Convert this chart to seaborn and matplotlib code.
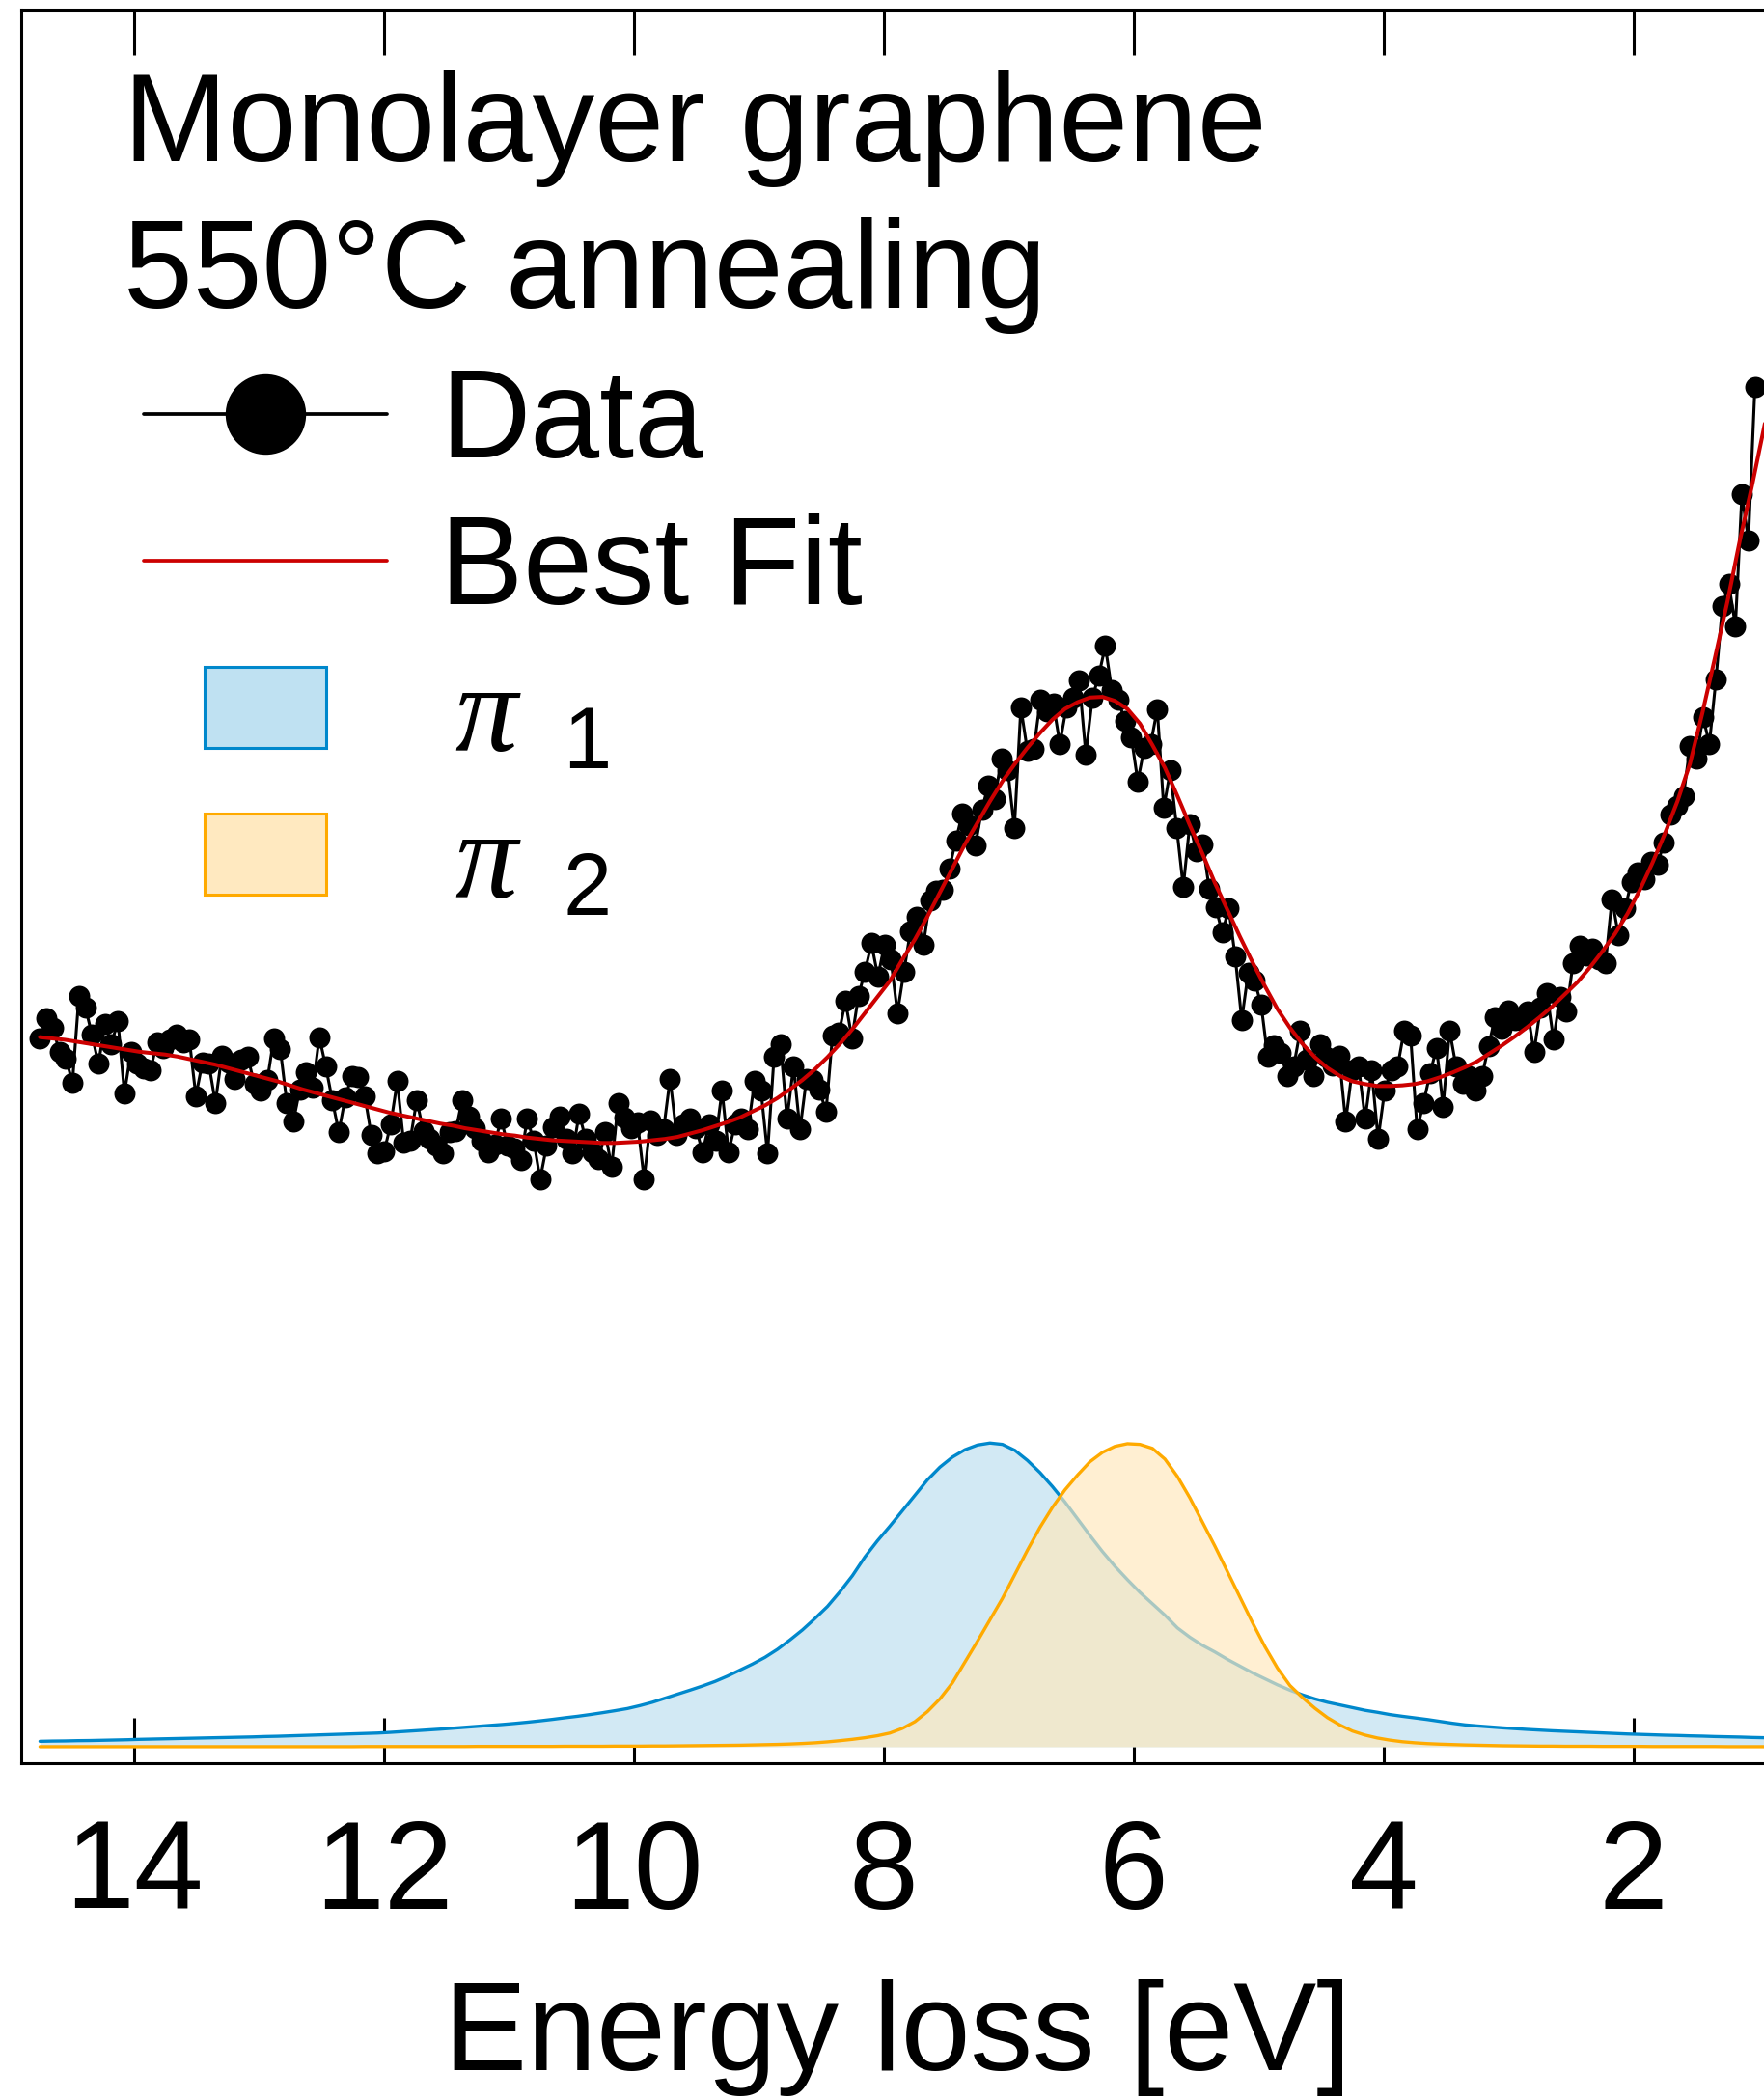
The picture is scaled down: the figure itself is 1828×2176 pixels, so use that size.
import numpy as np
import matplotlib
matplotlib.use("Agg")
import matplotlib.pyplot as plt
import seaborn as sns
from matplotlib.lines import Line2D
from matplotlib.patches import Patch, Rectangle
from matplotlib.legend_handler import HandlerPatch

# ---------------------------------------------------------------- data
# Measured EELS intensity (arb. units), evenly spaced in energy loss
intensity_data = [
    541, 556, 549, 531, 526, 508, 573, 564, 544, 522,
    552, 537, 554, 500, 531, 522, 519, 517, 538, 534,
    540, 544, 538, 540, 498, 523, 522, 493, 528, 523,
    511, 525, 527, 507, 502, 510, 541, 533, 493, 479,
    503, 516, 504,
    542, 520, 495, 471, 497, 513, 512, 498, 469, 455,
    457, 477, 509, 463, 465, 495, 472, 466, 461, 455,
    471, 472, 495, 483, 474, 465, 456, 462, 481, 461,
    459, 450, 481, 465, 436, 461, 475, 483, 466, 455,
    485, 466, 456, 451, 471, 445, 493,
    482, 474, 478, 436, 480, 469, 473, 511, 469, 477,
    481, 474, 456, 477, 465, 502, 456, 477, 481, 473,
    509, 502, 455, 527, 537, 481, 520, 473, 511, 510,
    503, 486, 543, 545, 569, 541, 573, 591,
    612, 587, 611, 600, 560, 591, 621, 632, 611, 644,
    651, 652, 668, 689, 709, 700, 685, 712, 730, 720,
    750, 741, 698, 788, 756, 757, 794, 785, 791, 761,
    788, 795, 808, 753, 795, 812, 834, 801, 794, 778,
    766, 733, 758, 761, 787, 713,
    741, 698, 654, 701, 681, 686, 653, 639, 620, 638,
    602, 555, 590, 584, 566, 527, 536, 530, 513, 520,
    547, 525, 513, 537, 527, 521, 528, 479, 517, 520,
    481, 517, 466, 502, 517, 520, 547, 543, 473, 493,
    515, 534, 490, 547,
    520, 507, 513, 502, 513, 535, 557, 548, 562, 555,
    555, 561, 531, 564, 575, 540, 572, 561, 597, 610,
    603, 608, 600, 597, 645, 618, 638, 658, 665, 660,
    673, 671, 687, 708, 715, 722, 759, 750, 781, 761,
    809, 864, 880, 849, 947, 913, 1027,
]
energy_start, energy_stop = 14.75, 1.03
energy_data = np.linspace(energy_start, energy_stop, len(intensity_data))

# Model curves on a 0.1 eV grid (14.75 ... 0.95 eV)
energy_fit = np.round(np.arange(14.75, 0.90, -0.1), 2)

best_fit = [
    542, 541, 540, 538.5, 537, 535.5, 534, 532.5, 531, 530,
    529, 527.5, 525.5, 523.5, 521.5, 519, 516.5, 514, 511.5, 509,
    506, 503, 500.5, 498, 495.5, 493, 490.5, 488, 485.5, 483.5,
    481.5, 479.5, 477.5, 476, 474, 472.5, 471, 469.5, 468.5, 467,
    466, 465, 464.5, 464, 463.5, 463, 463, 463.5, 464, 465,
    466, 467.5, 470, 472.5, 475.5, 478.5, 482, 486.5, 491, 496.5,
    503, 510, 518, 527, 537, 548, 560, 572, 584, 600,
    615, 632, 650, 668, 686, 702, 718, 733, 746, 758,
    769, 779, 787, 792, 795.5, 796, 793, 787, 776, 760,
    743, 722, 700, 679, 657, 637, 617, 598, 580, 563,
    549, 537, 527, 519, 513, 509, 507, 505.5, 505.5, 506,
    507, 509, 512, 515.5, 519.5, 524, 530, 536, 542.5, 549.5,
    557, 565, 574, 583, 594, 606, 619, 634, 652, 672,
    694, 718, 746, 784, 825, 867, 913, 955, 1000,
]

pi1_component = [
    16.3, 16.5, 16.6, 16.8, 16.9, 17.1, 17.3, 17.5, 17.8, 18.0,
    18.2, 18.4, 18.6, 18.8, 19.0, 19.2, 19.4, 19.6, 19.9, 20.1,
    20.4, 20.7, 21.0, 21.3, 21.6, 21.9, 22.2, 22.5, 23.0, 23.6,
    24.2, 24.8, 25.4, 26.1, 26.8, 27.5, 28.2, 28.9, 29.7, 30.6,
    31.6, 32.7, 33.9, 35.0, 36.3, 37.7, 39.2, 40.8, 43.0, 45.5,
    48.5, 51.5, 54.5, 57.6, 61, 65, 69.5, 74, 79, 85,
    92, 99.5, 108, 117, 128, 140, 154, 166, 177, 188.5,
    200, 211.5, 221, 228.5, 234, 237.5, 239, 238, 233.5, 226,
    217, 206.5, 195, 182.5, 170, 158, 147, 137, 127.5, 119,
    110.5, 101, 94, 88, 83, 77.5, 72.5, 67.5, 63, 58.5,
    54.5, 51, 48, 45.5, 43.5, 41.5, 39.5, 38, 36.3, 35,
    33.8, 32.6, 31.2, 29.8, 28.6, 27.8, 27.1, 26.4, 25.8, 25.2,
    24.7, 24.2, 23.8, 23.4, 23.0, 22.6, 22.2, 21.8, 21.5, 21.2,
    20.9, 20.7, 20.4, 20.2, 19.9, 19.7, 19.5, 19.2, 19.0,
]

pi2_component = [
    12.3, 12.3, 12.3, 12.3, 12.3, 12.3, 12.3, 12.3, 12.3, 12.3,
    12.3, 12.3, 12.3, 12.3, 12.3, 12.3, 12.3, 12.3, 12.3, 12.3,
    12.3, 12.3, 12.3, 12.3, 12.3, 12.3, 12.4, 12.4, 12.4, 12.4,
    12.4, 12.4, 12.4, 12.4, 12.4, 12.5, 12.5, 12.5, 12.5, 12.5,
    12.5, 12.5, 12.6, 12.6, 12.6, 12.6, 12.7, 12.7, 12.7, 12.8,
    12.8, 12.9, 13.0, 13.1, 13.2, 13.3, 13.4, 13.6, 13.8, 14.0,
    14.3, 14.7, 15.2, 15.9, 16.8, 17.8, 19.0, 20.5, 22.5, 26,
    31, 38.5, 48, 60, 75.5, 91, 107, 123, 141, 159,
    176, 191, 204, 215, 225, 232, 236.5, 238.5, 238, 235,
    227, 214, 198, 180, 162, 143, 124, 105, 87, 71,
    58, 49, 41, 34, 28.5, 24, 21, 18.8, 17.2, 16,
    15.2, 14.6, 14.2, 13.9, 13.6, 13.4, 13.2, 13.0, 12.9, 12.8,
    12.7, 12.7, 12.6, 12.6, 12.6, 12.5, 12.5, 12.5, 12.5, 12.4,
    12.4, 12.4, 12.4, 12.4, 12.4, 12.3, 12.3, 12.3, 12.3,
]
component_floor = 12.3

x_ticks = [14, 12, 10, 8, 6, 4, 2]
title_lines = ["Monolayer graphene", "550°C annealing"]
legend_labels = ["Data", "Best Fit",
                 r"$\,\pi\ \,{}_{1}$", r"$\,\pi\ \,{}_{2}$"]

# ---------------------------------------------------------------- style
sns.set_theme(style="white")
plt.rcParams.update({
    "font.family": ["Liberation Sans", "DejaVu Sans"],
    "mathtext.fontset": "custom",
    "mathtext.rm": "Liberation Sans",
    "mathtext.it": "Liberation Serif:italic",
    "mathtext.bf": "Liberation Sans:bold",
    "axes.edgecolor": "black",
    "axes.linewidth": 2.2,
})

FS = 93
BLUE = "#0088CC"
ORANGE = "#FFAA00"
RED = "#CC0000"

fig = plt.figure(figsize=(18.28, 21.76), dpi=100)
ax = fig.add_axes([22 / 1828, 349 / 2176, 1816 / 1828, 1817 / 2176])

# fitted peak components
ax.fill_between(energy_fit, component_floor, pi1_component,
                color="#D2E9F4", lw=0, zorder=1)
sns.lineplot(x=energy_fit, y=pi1_component, ax=ax, color=BLUE, lw=2.4,
             estimator=None, sort=False, legend=False, zorder=2)
ax.fill_between(energy_fit, component_floor, pi2_component,
                color=(1.0, 232 / 255, 188 / 255), alpha=0.667, lw=0, zorder=3)
sns.lineplot(x=energy_fit, y=pi2_component, ax=ax, color=ORANGE, lw=2.4,
             estimator=None, sort=False, legend=False, zorder=4)

# measured spectrum and total fit
sns.lineplot(x=energy_data, y=intensity_data, ax=ax, color="black", lw=2.2,
             marker="o", markersize=15.8, markeredgewidth=0,
             estimator=None, sort=False, legend=False, zorder=5)
sns.lineplot(x=energy_fit, y=best_fit, ax=ax, color=RED, lw=2.9,
             estimator=None, sort=False, legend=False, zorder=6)

# axes
ax.set_xlim(14.9, 0.88)
ax.set_ylim(0, 1309)
ax.set_xticks(x_ticks)
ax.set_xticklabels([str(t) for t in x_ticks])
ax.set_yticks([])
ax.tick_params(axis="x", which="both", direction="in", length=34, width=2.2,
               top=True, bottom=True, labelsize=FS, pad=41, colors="black")
ax.set_xlabel("Energy loss [eV]", fontsize=FS, labelpad=33, color="black")
for s in ax.spines.values():
    s.set_visible(True)
    s.set_linewidth(2.2)
    s.set_color("black")
ax.set_facecolor("white")

# sample description
ax.text(0.0584, 0.9136, title_lines[0], transform=ax.transAxes,
        fontsize=FS, va="baseline", ha="left", color="black")
ax.text(0.0584, 0.8299, title_lines[1], transform=ax.transAxes,
        fontsize=FS, va="baseline", ha="left", color="black")


def box_handle(legend, orig_handle, xdescent, ydescent, width, height, fontsize):
    w = 0.5 * width
    h = 0.65 * fontsize
    return Rectangle((-xdescent + (width - w) / 2, -ydescent + (height - h) / 2), w, h)


handles = [
    Line2D([], [], color="black", lw=2.7, marker="o", markersize=15.8,
           markeredgewidth=0),
    Line2D([], [], color=RED, lw=2.7),
    Patch(facecolor="#BFE1F2", edgecolor=BLUE, lw=2.2),
    Patch(facecolor="#FFE9C0", edgecolor=ORANGE, lw=2.2),
]
leg = ax.legend(handles, legend_labels, loc="upper left",
                bbox_to_anchor=(0.0699, 0.7964), frameon=False,
                fontsize=FS, markerscale=3.8, handlelength=1.95,
                handletextpad=0.43, labelspacing=0.24, borderpad=0,
                borderaxespad=0,
                handler_map={Patch: HandlerPatch(patch_func=box_handle)})
for t in leg.get_texts():
    t.set_color("black")

fig.savefig("out.png", dpi=100, facecolor="white")
